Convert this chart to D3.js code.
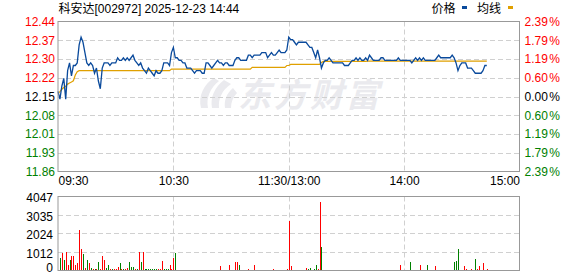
<!DOCTYPE html>
<html><head><meta charset="utf-8">
<script src="https://cdn.jsdelivr.net/npm/d3@7"></script>
<style>
body{margin:0;background:#fff;}
svg{display:block;}
text{font-family:"Liberation Sans",Arial,"Noto Sans CJK SC",sans-serif;font-size:12px;}
</style>
</head><body>
<svg id="c" width="578" height="276"></svg>
<script>
const title = "科安达[002972] 2025-12-23 14:44";
const legendNames = ["价格", "均线"];
const prevClose = 12.15;
const maxPct = 0.0239;
const priceTicks = ["12.44","12.37","12.30","12.22","12.15","12.08","12.01","11.93","11.86"];
const pctTicks = ["2.39","1.79","1.19","0.60","0.00","0.60","1.19","1.79","2.39"];
const timeTicks = [0, 60, 120, 180, 240];
const timeLabels = ["09:30","10:30","11:30/13:00","14:00","15:00"];
const volTicks = [4047, 3035, 2024, 1012, 0];

const price = [
12.17,12.14,12.19,12.22,12.14,12.25,12.28,12.23,12.27,12.27,
12.28,12.35,12.38,12.36,12.32,12.28,12.27,12.28,12.27,12.24,
12.26,12.21,12.18,12.26,12.28,12.28,12.28,12.27,12.28,12.28,
12.28,12.30,12.29,12.29,12.30,12.29,12.30,12.29,12.30,12.31,
12.29,12.28,12.27,12.28,12.26,12.25,12.24,12.26,12.25,12.24,
12.23,12.25,12.24,12.24,12.25,12.28,12.28,12.28,12.27,12.32,
12.34,12.30,12.30,12.29,12.29,12.28,12.28,12.26,12.26,12.26,
12.25,12.24,12.25,12.25,12.25,12.24,12.24,12.28,12.28,12.27,
12.26,12.27,12.28,12.29,12.28,12.28,12.27,12.28,12.28,12.27,
12.27,12.27,12.29,12.30,12.30,12.29,12.29,12.29,12.29,12.31,
12.31,12.30,12.31,12.31,12.31,12.31,12.32,12.32,12.32,12.30,
12.31,12.32,12.31,12.31,12.32,12.33,12.32,12.32,12.32,12.33,
12.38,12.37,12.37,12.36,12.35,12.36,12.36,12.36,12.36,12.36,
12.35,12.34,12.34,12.32,12.30,12.33,12.30,12.26,12.28,12.29,
12.29,12.30,12.29,12.28,12.28,12.28,12.28,12.28,12.28,12.27,
12.27,12.27,12.28,12.29,12.29,12.30,12.29,12.30,12.29,12.29,
12.30,12.29,12.31,12.30,12.29,12.29,12.29,12.29,12.30,12.30,
12.29,12.29,12.29,12.29,12.29,12.29,12.29,12.30,12.29,12.29,
12.29,12.29,12.29,12.29,12.28,12.29,12.30,12.29,12.30,12.29,
12.30,12.29,12.29,12.29,12.29,12.29,12.29,12.30,12.31,12.30,
12.30,12.30,12.30,12.30,12.30,12.31,12.30,12.28,12.25,12.27,
12.28,12.28,12.28,12.26,12.26,12.26,12.25,12.24,12.24,12.24,
12.24,12.25,12.27,12.27
];

const avgPrice = [
12.162,12.169,12.178,12.185,12.190,12.198,12.202,12.206,12.211,12.233,
12.246,12.250,12.250,12.250,12.250,12.250,12.250,12.250,12.250,12.250,
12.250,12.250,12.250,12.250,12.250,12.250,12.250,12.250,12.250,12.250,
12.250,12.250,12.250,12.250,12.250,12.250,12.250,12.250,12.250,12.250,
12.250,12.250,12.250,12.250,12.250,12.250,12.250,12.250,12.250,12.250,
12.250,12.250,12.250,12.250,12.250,12.250,12.250,12.250,12.250,12.256,
12.256,12.256,12.256,12.256,12.256,12.256,12.256,12.256,12.256,12.256,
12.256,12.256,12.256,12.256,12.256,12.256,12.256,12.256,12.256,12.256,
12.256,12.256,12.256,12.256,12.256,12.256,12.256,12.256,12.256,12.256,
12.256,12.256,12.256,12.256,12.256,12.256,12.256,12.256,12.256,12.256,
12.256,12.263,12.263,12.263,12.263,12.263,12.263,12.263,12.263,12.263,
12.263,12.263,12.263,12.263,12.263,12.263,12.263,12.263,12.263,12.270,
12.270,12.274,12.274,12.274,12.274,12.274,12.274,12.274,12.274,12.274,
12.274,12.274,12.274,12.274,12.274,12.274,12.274,12.282,12.286,12.286,
12.286,12.286,12.286,12.286,12.286,12.286,12.286,12.286,12.286,12.286,
12.286,12.286,12.286,12.286,12.286,12.286,12.286,12.286,12.286,12.286,
12.286,12.287,12.287,12.287,12.287,12.287,12.287,12.287,12.287,12.287,
12.287,12.287,12.287,12.287,12.287,12.287,12.287,12.287,12.287,12.287,
12.287,12.287,12.287,12.287,12.287,12.287,12.287,12.287,12.287,12.287,
12.287,12.287,12.287,12.287,12.287,12.287,12.287,12.287,12.287,12.287,
12.287,12.287,12.287,12.287,12.287,12.287,12.287,12.287,12.287,12.287,
12.287,12.287,12.287,12.287,12.287,12.287,12.287,12.287,12.287,12.287,
12.287,12.287,12.287,12.287
];

const volume = [
0,695,948,547,985,274,547,820,766,274,
400,2188,1185,912,120,547,400,130,60,60,
60,492,60,820,547,120,274,60,60,60,
60,180,400,60,60,60,120,492,180,180,
60,60,1003,492,1003,60,60,60,60,60,
60,60,60,60,510,60,60,60,274,60,
675,948,50,50,50,50,50,50,50,50,
50,50,50,50,50,50,50,50,50,50,
50,50,50,50,219,50,50,50,50,274,
50,50,456,456,328,50,50,50,50,100,
50,50,274,40,40,40,40,40,40,40,
40,40,100,40,40,40,40,40,40,100,
2697,220,40,40,40,40,40,40,40,110,
80,164,40,80,274,80,3720,1258,40,40,
40,40,40,40,40,40,40,40,40,40,
40,40,40,40,40,40,40,40,40,40,
40,40,40,40,40,40,40,40,40,40,
40,40,40,40,40,40,40,40,274,40,
40,40,40,492,40,40,40,40,274,40,
40,40,274,40,40,40,219,40,40,40,
40,40,40,40,40,40,456,510,1149,40,
40,219,100,40,40,80,40,656,100,219,
40,383,40,60
];

const volUp = [
1,0,1,0,1,1,0,1,1,1,
1,1,1,0,1,0,1,0,1,0,
1,0,1,1,1,0,0,1,0,1,
1,1,0,1,0,1,1,0,0,0,
1,0,1,0,1,0,0,0,0,0,
0,0,1,1,1,0,0,0,1,1,
1,0,1,1,0,1,1,0,1,1,
1,0,1,1,1,0,1,1,1,0,
1,1,1,0,1,1,0,1,1,1,
0,1,1,1,0,1,1,0,1,1,
1,0,1,1,1,0,1,1,1,1,
0,1,1,1,1,0,1,1,1,1,
1,1,1,0,1,1,1,1,0,1,
0,0,1,0,0,1,1,0,1,1,
1,1,1,1,1,1,0,1,1,1,
1,1,1,1,1,1,1,0,1,1,
1,1,1,1,1,1,1,1,1,0,
1,1,1,1,1,1,1,1,1,0,
1,1,1,0,1,1,1,0,1,1,
1,0,0,1,1,0,1,1,1,0,
1,1,0,1,1,1,0,0,0,1,
1,1,1,1,0,1,0,0,1,1,
0,1,1,1
];

const RED = "#ff0000", GREEN = "#008000", DARK = "#000000";
const svg = d3.select("#c");
const L = 58, R = 519.5, PT = 21.5, PB = 171.5, VT = 196.5, VB = 270.5;

const x = d3.scaleLinear().domain([0, 240]).range([L, R]);
const yP = d3.scaleLinear().domain([prevClose * (1 - maxPct), prevClose * (1 + maxPct)]).range([PB, PT]);
const gridIdx = d3.scaleLinear().domain([0, 8]).range([PT, PB]);
const yV = d3.scaleLinear().domain([0, 4047]).range([VB, VT]);

// watermark
const wm = svg.append("g").attr("fill", "#eaeaee");
wm.append("path").attr("d", "M214,78 C204,84 198,96 201,108 L208,108 C206,98 210,88 219,81 Z M224,80 C214,88 210,98 212,108 L219,108 C218,99 222,90 231,84 Z M233,88 C226,94 224,101 225,108 L231,108 C231,102 233,97 237,93 Z");
wm.append("text").attr("x", 238).attr("y", 107).attr("font-weight", "bold")
  .attr("font-style", "italic").style("font-family", "'Noto Sans CJK SC'").style("font-size", "33px")
  .attr("letter-spacing", 3).text("东方财富");

// grids
function hgrid(ys) {
  svg.append("g").selectAll("line").data(ys).join("line")
    .attr("x1", L).attr("x2", R).attr("y1", d => Math.round(d) + 0.5).attr("y2", d => Math.round(d) + 0.5)
    .attr("stroke", "#d0d0d0").attr("stroke-dasharray", "5,3");
}
function vgrid(t, b) {
  svg.append("g").selectAll("line").data([60, 120, 180]).join("line")
    .attr("x1", d => Math.round(x(d)) + 0.5).attr("x2", d => Math.round(x(d)) + 0.5)
    .attr("y1", t).attr("y2", b).attr("stroke", "#d0d0d0").attr("stroke-dasharray", "5,3");
}
hgrid(d3.range(1, 8).map(gridIdx));
vgrid(PT, PB);
hgrid([3035, 2024, 1012].map(yV));
vgrid(VT, VB);

// average line and price line
const line = d3.line().x((d, i) => x(i)).y(d => yP(d));
svg.append("path").datum(avgPrice).attr("d", line).attr("fill", "none").attr("stroke", "#e0a000").attr("stroke-width", 1.2);
svg.append("path").datum(price).attr("d", line).attr("fill", "none").attr("stroke", "#0a4a9c").attr("stroke-width", 1.3);

// volume bars
svg.append("g").selectAll("rect").data(volume).join("rect")
  .attr("x", (d, i) => Math.round(x(i)) )
  .attr("width", 1)
  .attr("y", d => yV(d))
  .attr("height", d => VB - yV(d))
  .attr("fill", (d, i) => volUp[i] ? RED : GREEN)
  .attr("shape-rendering", "crispEdges");

// borders
svg.append("rect").attr("x", L).attr("y", PT).attr("width", R - L).attr("height", PB - PT)
  .attr("fill", "none").attr("stroke", "#999");
svg.append("rect").attr("x", L).attr("y", VT).attr("width", R - L).attr("height", VB - VT)
  .attr("fill", "none").attr("stroke", "#999");

function colorAt(i) { return i < 4 ? RED : (i === 4 ? DARK : GREEN); }

// left price axis
const axL = svg.append("g").attr("transform", `translate(${L - 2},0)`)
  .call(d3.axisLeft(gridIdx).tickValues(d3.range(9)).tickFormat(i => priceTicks[i]).tickSize(0).tickPadding(1));
axL.select(".domain").remove();
axL.selectAll("text").attr("fill", d => colorAt(d)).style("font-size", "12px").style("font-family", "'Liberation Sans',Arial");

// right pct axis
const axR = svg.append("g").attr("transform", `translate(${R + 4},0)`)
  .call(d3.axisRight(gridIdx).tickValues(d3.range(9)).tickFormat(i => pctTicks[i]).tickSize(0).tickPadding(1));
axR.select(".domain").remove();
axR.selectAll("text").attr("fill", d => colorAt(d)).style("font-size", "12px").style("font-family", "'Liberation Sans',Arial")
  .each(function (d) {
    const t = d3.select(this);
    t.text(null);
    t.append("tspan").text(pctTicks[d]);
    t.append("tspan").attr("dx", 1.5).text("%");
  });

// time axis
const axT = svg.append("g").attr("transform", `translate(0,${PB})`)
  .call(d3.axisBottom(x).tickValues(timeTicks).tickFormat((d, i) => timeLabels[i]).tickSize(0).tickPadding(5));
axT.select(".domain").remove();
axT.selectAll("text").attr("fill", "#000").style("font-size", "12px").style("font-family", "'Liberation Sans',Arial")
  .attr("text-anchor", (d, i) => i === 0 ? "start" : (i === timeTicks.length - 1 ? "end" : "middle"));

// volume axis
const axV = svg.append("g").attr("transform", `translate(${L - 4},0)`)
  .call(d3.axisLeft(yV).tickValues(volTicks).tickFormat(d3.format("d")).tickSize(0).tickPadding(1));
axV.select(".domain").remove();
axV.selectAll("text").attr("fill", "#000").attr("dy", d => d === 0 ? "0.12em" : "0.42em").style("font-size", "12px").style("font-family", "'Liberation Sans',Arial");

// title
svg.append("text").attr("x", 58.5).attr("y", 13).attr("fill", "#000").text(title);

// legend
svg.append("text").attr("x", 431.5).attr("y", 13).attr("fill", "#000").text(legendNames[0]);
svg.append("rect").attr("x", 462).attr("y", 6).attr("width", 5).attr("height", 3).attr("fill", "#0a4a9c");
svg.append("text").attr("x", 477).attr("y", 13).attr("fill", "#000").text(legendNames[1]);
svg.append("rect").attr("x", 508).attr("y", 6).attr("width", 5).attr("height", 3).attr("fill", "#e0a000");
</script>
</body></html>
